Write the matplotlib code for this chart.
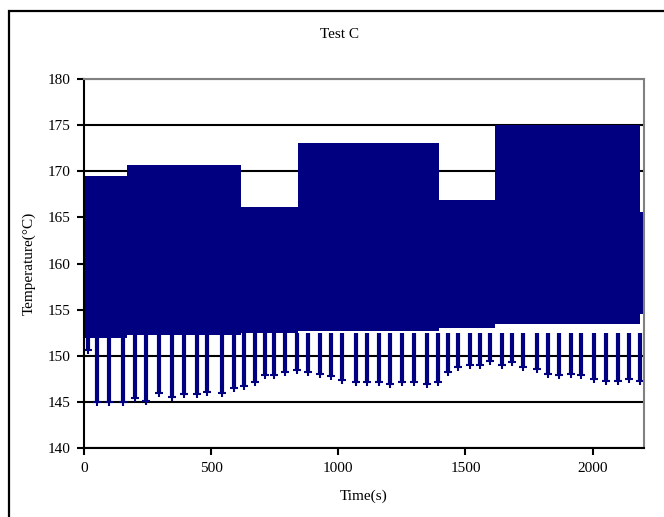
import matplotlib
matplotlib.use('Agg')
import matplotlib.pyplot as plt
from matplotlib.patches import Rectangle

plt.rcParams['font.family'] = ['Liberation Serif', 'DejaVu Serif']

# block boundaries (s) and upper / lower edge of the dense band (degC)
block_t = [0, 5, 169, 618, 840, 1394, 1618, 2186, 2200]
block_top = [161.2, 169.5, 170.7, 166.1, 173.1, 166.9, 175.0, 165.6]
block_low = [152.0, 152.0, 152.3, 152.5, 152.7, 153.0, 153.5, 154.5]

# downward excursions below the band
dip_t = [15, 51, 98, 152, 201, 244, 295, 346, 394, 444, 484, 542, 591, 630,
         673, 713, 748, 791, 837, 882, 929, 971, 1016, 1071, 1114, 1161,
         1205, 1251, 1299, 1349, 1392, 1433, 1472, 1516, 1559, 1598, 1644,
         1684, 1728, 1780, 1826, 1866, 1913, 1955, 2004, 2051, 2098, 2142,
         2185]
dip_min = [150.7, 145.0, 145.0, 145.0, 145.5, 145.1, 146.0, 145.6, 145.9,
           145.9, 146.1, 146.0, 146.5, 146.8, 147.2, 147.9, 147.9, 148.3,
           148.5, 148.3, 148.1, 147.8, 147.4, 147.2, 147.2, 147.2, 147.0,
           147.2, 147.2, 147.0, 147.2, 148.3, 148.8, 149.0, 149.0, 149.5,
           149.0, 149.4, 148.8, 148.6, 148.1, 147.9, 148.1, 147.9, 147.5,
           147.3, 147.3, 147.5, 147.3]

x_ticks = [0, 500, 1000, 1500, 2000]
y_ticks = [140, 145, 150, 155, 160, 165, 170, 175, 180]

navy = '#000080'

fig = plt.figure(figsize=(6.64, 5.17), dpi=100)
fig.patch.set_facecolor('white')
ax = fig.add_axes([84 / 664, 1 - 448.3 / 517, (643.5 - 84) / 664, (448.3 - 79) / 517])

ax.fill_between(block_t, block_low + [block_low[-1]], block_top + [block_top[-1]],
                step='post', color=navy, lw=0, zorder=2)
ax.vlines(dip_t, dip_min, [152.5] * len(dip_t), color=navy, lw=3, zorder=2)
ax.plot(dip_t, dip_min, '+', color=navy, ms=6, mew=1.5, zorder=2)

ax.set_xlim(0, 2200)
ax.set_ylim(140, 180)
ax.set_xticks(x_ticks)
ax.set_yticks(y_ticks)
ax.tick_params(labelsize=11, length=5, width=1.5, color='black', pad=5)
ax.set_axisbelow(True)
ax.grid(axis='y', color='black', lw=1.5)
ax.get_ygridlines()[-1].set_color('#808080')

for side in ('left', 'bottom'):
    ax.spines[side].set_color('black')
    ax.spines[side].set_linewidth(1.5)
for side in ('right', 'top'):
    ax.spines[side].set_color('#808080')
    ax.spines[side].set_linewidth(1.5)

ax.set_xlabel('Time(s)', fontsize=11, labelpad=10)
ax.set_ylabel('Temperature(°C)', fontsize=11, labelpad=8)
fig.text(340 / 664, 1 - 35 / 517, 'Test C', fontsize=11, ha='center', va='center')

fig.patches.append(Rectangle((8.5 / 664, -0.1), 1.2, 1.1 - 10.5 / 517,
                             transform=fig.transFigure, fill=False,
                             ec='black', lw=1.6))

fig.savefig('out.png', dpi=100)
